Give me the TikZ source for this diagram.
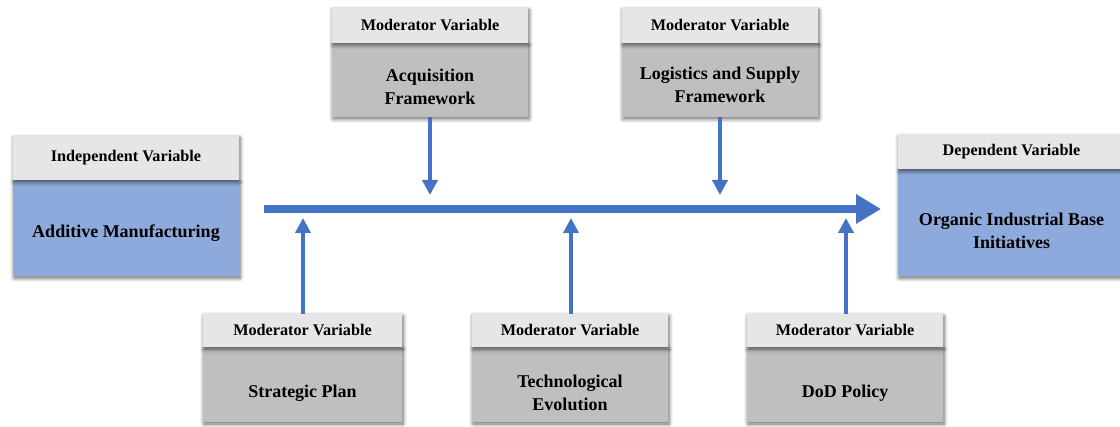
\documentclass[tikz,border=0pt]{standalone}
\usepackage{fontspec}
\setmainfont{Liberation Serif}
\usetikzlibrary{arrows.meta,shadows.blur}

\definecolor{hdrgrey}{RGB}{230,230,230}
\definecolor{modgrey}{RGB}{191,191,191}
\definecolor{varblue}{RGB}{142,169,219}
\definecolor{flowblue}{RGB}{68,114,196}

\begin{document}
\begin{tikzpicture}[
  x=1pt, y=-1pt,
  boxshadow/.style={blur shadow={shadow xshift=1pt, shadow yshift=-2pt,
      shadow blur radius=4pt, shadow blur steps=6, shadow opacity=60}},
  bodybox/.style={rectangle, draw=none, inner sep=0pt, outer sep=0pt,
      anchor=north west, boxshadow},
  hdrbox/.style={rectangle, draw=none, fill=hdrgrey, inner sep=0pt, outer sep=0pt,
      anchor=south west, boxshadow,
      font=\bfseries\fontsize{16.2}{18}\selectfont},
  bodytext/.style={align=center, inner sep=0pt,
      font=\bfseries\fontsize{18}{23}\selectfont},
  mainflow/.style={draw=flowblue, line width=8pt,
      -{Triangle[length=25pt,width=28pt]}},
  moderates/.style={draw=flowblue, line width=4pt,
      -{Triangle[length=15pt,width=15pt]}},
]
\useasboundingbox (0,0) rectangle (1120,427);

% ---- independent variable (left)
\node[bodybox, fill=varblue, minimum width=226pt, minimum height=96pt] (am) at (13,180) {};
\node[hdrbox, minimum width=226pt, minimum height=44pt] (amh) at (am.north west) {Independent Variable};
\node[bodytext] (amt) at ([yshift=-5pt]am.center) {Additive Manufacturing};

% ---- dependent variable (right)
\node[bodybox, fill=varblue, minimum width=227pt, minimum height=107pt] (oib) at (898,169) {};
\node[hdrbox, minimum width=227pt, minimum height=34pt] (oibh) at (oib.north west) {Dependent Variable};
\node[bodytext] (oibt) at ([yshift=-8pt]oib.center) {Organic Industrial Base\\Initiatives};

% ---- moderators above the main flow
\node[bodybox, fill=modgrey, minimum width=196pt, minimum height=74pt] (acq) at (332,43) {};
\node[hdrbox, minimum width=196pt, minimum height=35pt] (acqh) at (acq.north west) {Moderator Variable};
\node[bodytext] (acqt) at ([yshift=-7pt]acq.center) {Acquisition\\Framework};

\node[bodybox, fill=modgrey, minimum width=196pt, minimum height=74pt] (log) at (622,43) {};
\node[hdrbox, minimum width=196pt, minimum height=35pt] (logh) at (log.north west) {Moderator Variable};
\node[bodytext] (logt) at ([yshift=-5pt]log.center) {Logistics and Supply\\Framework};

% ---- moderators below the main flow
\node[bodybox, fill=modgrey, minimum width=199pt, minimum height=75pt] (sp) at (203,347) {};
\node[hdrbox, minimum width=199pt, minimum height=33pt] (sph) at (sp.north west) {Moderator Variable};
\node[bodytext] (spt) at ([yshift=-9pt]sp.center) {Strategic Plan};

\node[bodybox, fill=modgrey, minimum width=196pt, minimum height=75pt] (te) at (472,347) {};
\node[hdrbox, minimum width=196pt, minimum height=33pt] (teh) at (te.north west) {Moderator Variable};
\node[bodytext] (tet) at ([yshift=-8pt]te.center) {Technological\\Evolution};

\node[bodybox, fill=modgrey, minimum width=196pt, minimum height=75pt] (dod) at (747,347) {};
\node[hdrbox, minimum width=196pt, minimum height=33pt] (dodh) at (dod.north west) {Moderator Variable};
\node[bodytext] (dodt) at ([yshift=-9pt]dod.center) {DoD Policy};

% ---- main flow and its moderating arrows
\coordinate (flowstart) at (264,209);
\coordinate (flowend) at (881,209);
\draw[mainflow] (flowstart) -- (flowend);

\coordinate (acqin) at (430,195);
\coordinate (login) at (720,195);
\coordinate (spin) at (303,218);
\coordinate (tein) at (571,218);
\coordinate (dodin) at (846,218);

\draw[moderates] (acq.south -| acqin) -- (acqin);
\draw[moderates] (log.south -| login) -- (login);
\draw[moderates] (sph.north -| spin) -- (spin);
\draw[moderates] (teh.north -| tein) -- (tein);
\draw[moderates] (dodh.north -| dodin) -- (dodin);
\end{tikzpicture}
\end{document}
